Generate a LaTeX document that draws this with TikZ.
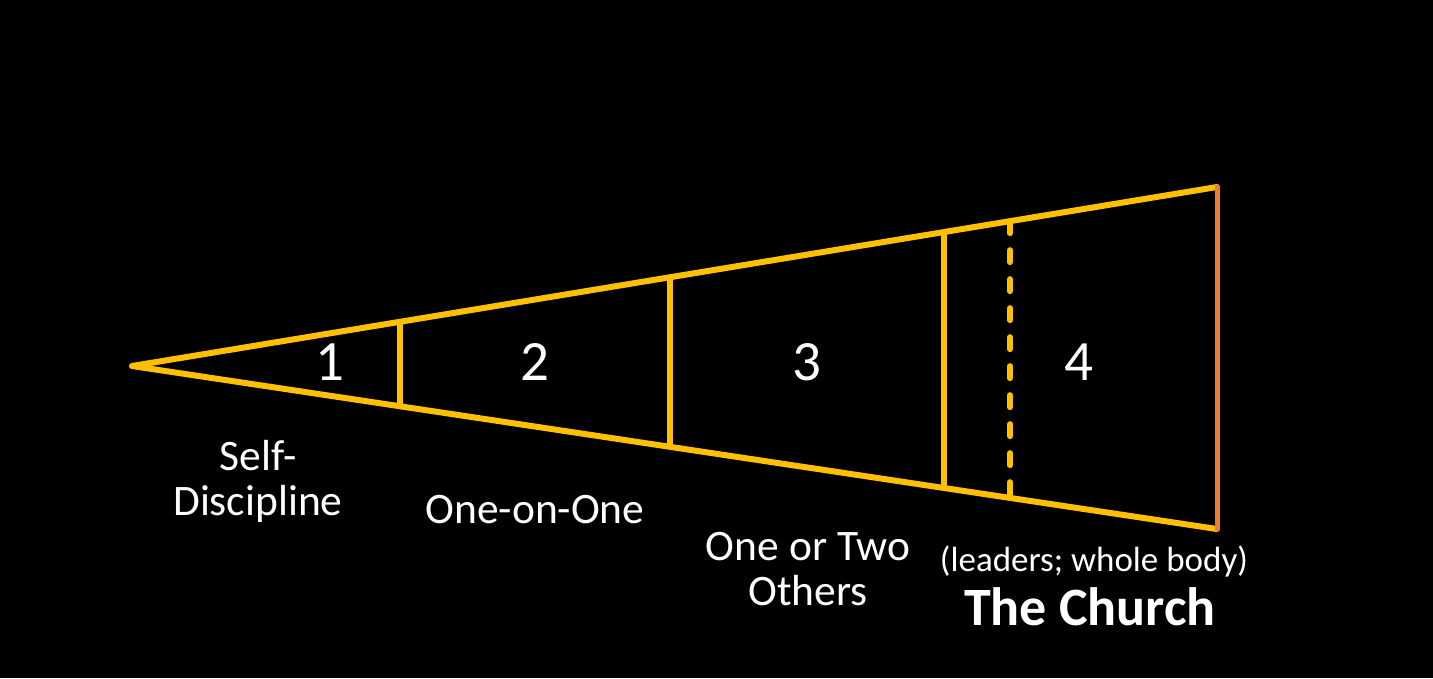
\documentclass[tikz,border=0pt]{standalone}
\usepackage{fontspec}
\setmainfont{Carlito}
\usetikzlibrary{calc}
\definecolor{gold}{HTML}{FFC000}
\definecolor{edgeorange}{HTML}{ED7D31}
\tikzset{
  wedge/.style={draw=gold, line width=6pt, line cap=round, line join=round},
  numlabel/.style={text=white, font=\fontsize{57}{62}\selectfont, inner sep=0pt},
  caption/.style={text=white, font=\fontsize{43.5}{45}\selectfont, align=center, inner sep=0pt},
}
\begin{document}
\begin{tikzpicture}[x=1pt,y=-1pt]
\fill[black] (0,0) rectangle (1433,678);
\useasboundingbox (0,0) rectangle (1433,678);
\coordinate (A) at (132,366);
\coordinate (TR) at (1217,187);
\coordinate (BR) at (1217,529);
\foreach \n/\t in {a/0.247,b/0.4959,c/0.7484,d/0.8092}{
  \coordinate (t\n) at ($(A)!\t!(TR)$);
  \coordinate (b\n) at ($(A)!\t!(BR)$);
}
\draw[wedge] (TR) -- (A) -- (BR);
\draw[draw=edgeorange, line width=5pt, line cap=round] (TR) -- (BR);
\draw[wedge] (ta) -- (ba);
\draw[wedge] (tb) -- (bb);
\draw[wedge] (tc) -- (bc);
\draw[wedge, dash pattern=on 12pt off 17pt] (td) -- (bd);
\node[numlabel] (n1) at (330,362) {1};
\node[numlabel] (n2) at (535,362) {2};
\node[numlabel] (n3) at (807,362) {3};
\node[numlabel] (n4) at (1079,362) {4};
\node[caption] (l1) at (258,481) {Self-\\Discipline};
\node[caption] (l2) at (535,510) {One-on-One};
\node[caption] (l3) at (808,569) {One or Two\\Others};
\node[text=white, font=\fontsize{35}{40}\selectfont, inner sep=0pt] (l4a) at (1094,562) {(leaders; whole body)};
\node[text=white, font=\fontsize{54}{60}\selectfont\bfseries, inner sep=0pt] (l4b) at (1090,607) {The Church};
\end{tikzpicture}
\end{document}
